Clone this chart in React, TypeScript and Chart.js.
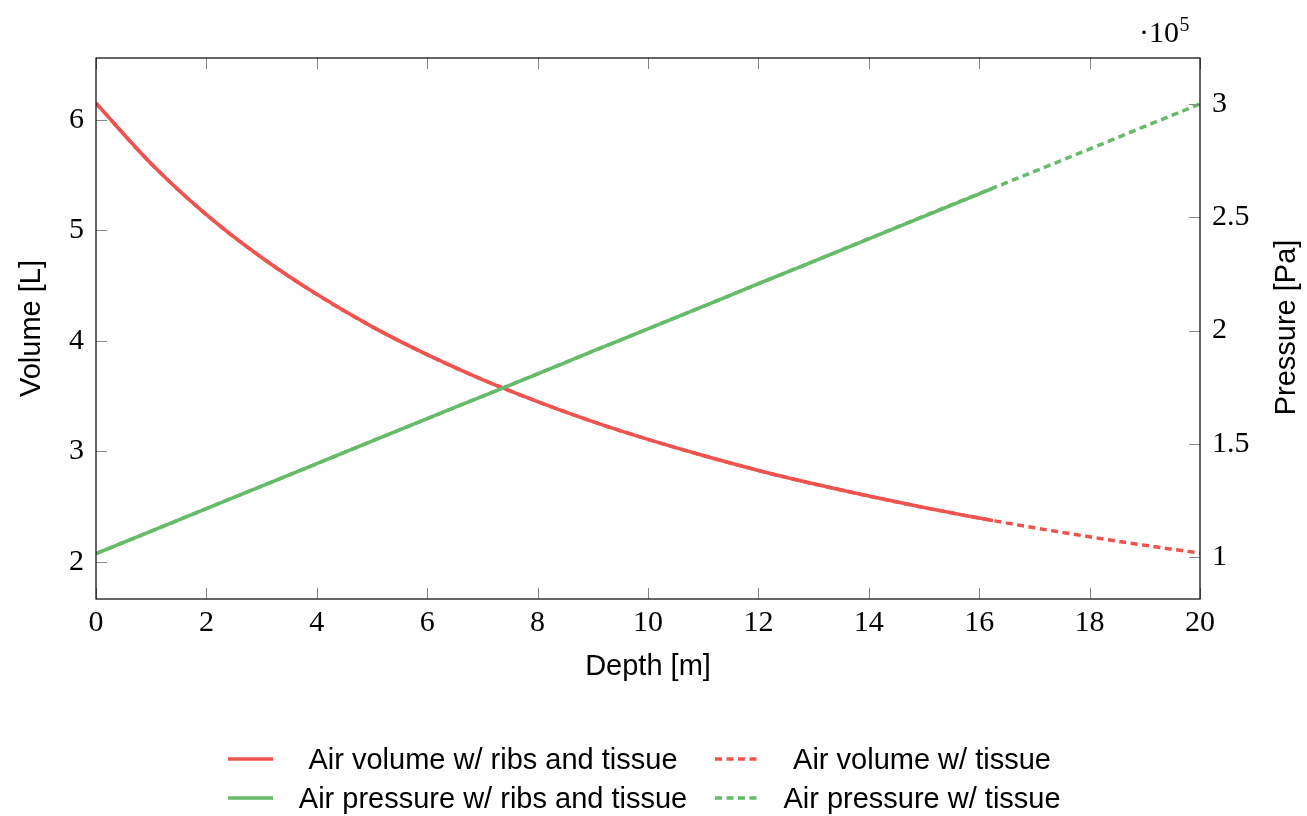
import React, { useEffect, useRef } from "react";
import { Chart, registerables } from "chart.js";

Chart.register(...registerables);

// ---- data ----
const depthRibs = [0, 1, 2, 3, 4, 5, 6, 7, 8, 9, 10, 11, 12, 13, 14, 15, 16, 16.25];
const volumeRibs = [6.15, 5.603, 5.142, 4.754, 4.421, 4.129, 3.875, 3.65, 3.451, 3.27, 3.109, 2.963, 2.828, 2.707, 2.596, 2.492, 2.397, 2.374];
const pressureRibs = [101500, 111400, 121400, 131300, 141200, 151200, 161100, 171000, 180900, 190900, 200800, 210700, 220700, 230600, 240500, 250500, 260400, 262900];

const depthTissue = [0, 1, 2, 3, 4, 5, 6, 7, 8, 9, 10, 11, 12, 13, 14, 15, 16, 17, 18, 19, 20];
const volumeTissue = [6.15, 5.603, 5.142, 4.754, 4.421, 4.129, 3.875, 3.65, 3.451, 3.27, 3.109, 2.963, 2.828, 2.707, 2.596, 2.492, 2.397, 2.309, 2.228, 2.151, 2.08];
const pressureTissue = [101500, 111400, 121400, 131300, 141200, 151200, 161100, 171000, 180900, 190900, 200800, 210700, 220700, 230600, 240600, 250600, 260500, 270300, 280200, 290200, 300100];

const xTicks = [0, 2, 4, 6, 8, 10, 12, 14, 16, 18, 20];
const volumeTicks = [2, 3, 4, 5, 6];
const pressureTicks = [100000, 150000, 200000, 250000, 300000];

const seriesLabels = [
  "Air volume w/ ribs and tissue",
  "Air volume w/ tissue",
  "Air pressure w/ ribs and tissue",
  "Air pressure w/ tissue",
];
const xTitle = "Depth [m]";
const yTitle = "Volume [L]";
const y1Title = "Pressure [Pa]";

// ---- styles ----
const RED = "#EF5350";
const GREEN = "#66BB6A";
const DASH = [7, 4.5];
const SERIF = "'Liberation Serif', 'DejaVu Serif', serif";
const SANS = "'Liberation Sans', Arial, sans-serif";

const pts = (xs: number[], ys: number[]) => xs.map((x, i) => ({ x, y: ys[i] }));

const framePlugin = {
  id: "frame",
  afterDatasetsDraw(chart: any) {
    const { ctx, chartArea } = chart;
    const { left, right, top, bottom } = chartArea;
    const xs = chart.scales.x;
    const ys = chart.scales.y;
    const y1 = chart.scales.y1;
    const TL = 11;
    ctx.save();
    ctx.strokeStyle = "#888888";
    ctx.lineWidth = 1;
    ctx.beginPath();
    xs.ticks.forEach((t: any) => {
      const px = Math.round(xs.getPixelForValue(t.value)) + 0.5;
      ctx.moveTo(px, bottom);
      ctx.lineTo(px, bottom - TL);
      ctx.moveTo(px, top);
      ctx.lineTo(px, top + TL);
    });
    ys.ticks.forEach((t: any) => {
      const py = Math.round(ys.getPixelForValue(t.value)) + 0.5;
      ctx.moveTo(left, py);
      ctx.lineTo(left + TL, py);
    });
    y1.ticks.forEach((t: any) => {
      const py = Math.round(y1.getPixelForValue(t.value)) + 0.5;
      ctx.moveTo(right, py);
      ctx.lineTo(right - TL, py);
    });
    ctx.stroke();
    ctx.strokeStyle = "#000000";
    ctx.lineWidth = 1.2;
    ctx.strokeRect(left, top, right - left, bottom - top);
    ctx.restore();
  },
  afterDraw(chart: any) {
    const { ctx, chartArea } = chart;
    const { left, right, top, bottom } = chartArea;
    ctx.save();
    ctx.fillStyle = "#000";
    // axis titles
    ctx.font = `29px ${SANS}`;
    ctx.textAlign = "center";
    ctx.textBaseline = "alphabetic";
    ctx.fillText(xTitle, (left + right) / 2, 675);
    const cy = (top + bottom) / 2;
    ctx.save();
    ctx.translate(39.5, cy);
    ctx.rotate(-Math.PI / 2);
    ctx.fillText(yTitle, 0, 0);
    ctx.restore();
    ctx.save();
    ctx.translate(1295, cy - 1);
    ctx.rotate(-Math.PI / 2);
    ctx.fillText(y1Title, 0, 0);
    ctx.restore();

    // exponent label
    ctx.font = `30px ${SERIF}`;
    ctx.textAlign = "right";
    ctx.fillText("\u00B710", 1179, 41.7);
    ctx.font = `20px ${SERIF}`;
    ctx.textAlign = "left";
    ctx.fillText("5", 1179.5, 30.7);

    // legend
    const rows = [759, 798];
    const lineX = [[228, 273], [715, 758]];
    const textX = [493, 922];
    const items = [
      { label: seriesLabels[0], color: RED, dash: [] as number[], r: 0, c: 0 },
      { label: seriesLabels[1], color: RED, dash: DASH, r: 0, c: 1 },
      { label: seriesLabels[2], color: GREEN, dash: [] as number[], r: 1, c: 0 },
      { label: seriesLabels[3], color: GREEN, dash: DASH, r: 1, c: 1 },
    ];
    ctx.font = `29px ${SANS}`;
    ctx.textAlign = "center";
    items.forEach((it) => {
      const y = rows[it.r];
      ctx.strokeStyle = it.color;
      ctx.lineWidth = 3.5;
      ctx.setLineDash(it.dash);
      ctx.beginPath();
      ctx.moveTo(lineX[it.c][0], y);
      ctx.lineTo(lineX[it.c][1], y);
      ctx.stroke();
      ctx.setLineDash([]);
      ctx.fillStyle = "#000";
      ctx.fillText(it.label, textX[it.c], y + 9.5);
    });
    ctx.restore();
  },
};

export default function App() {
  const ref = useRef<HTMLCanvasElement | null>(null);
  useEffect(() => {
    if (!ref.current) return;
    const tickFont = { family: SERIF, size: 30 };
    const chart = new Chart(ref.current, {
      type: "line",
      data: {
        datasets: [
          {
            label: seriesLabels[1],
            data: pts(depthTissue, volumeTissue),
            borderColor: RED,
            borderWidth: 3.5,
            borderDash: DASH,
            pointRadius: 0,
            cubicInterpolationMode: "monotone",
            yAxisID: "y",
            order: 4,
          },
          {
            label: seriesLabels[3],
            data: pts(depthTissue, pressureTissue),
            borderColor: GREEN,
            borderWidth: 3.5,
            borderDash: DASH,
            pointRadius: 0,
            cubicInterpolationMode: "monotone",
            yAxisID: "y1",
            order: 3,
          },
          {
            label: seriesLabels[0],
            data: pts(depthRibs, volumeRibs),
            borderColor: RED,
            borderWidth: 3.5,
            pointRadius: 0,
            cubicInterpolationMode: "monotone",
            yAxisID: "y",
            order: 2,
          },
          {
            label: seriesLabels[2],
            data: pts(depthRibs, pressureRibs),
            borderColor: GREEN,
            borderWidth: 3.5,
            pointRadius: 0,
            cubicInterpolationMode: "monotone",
            yAxisID: "y1",
            order: 1,
          },
        ],
      },
      options: {
        animation: false,
        responsive: false,
        maintainAspectRatio: false,
        devicePixelRatio: 1,
        parsing: false as any,
        layout: { padding: { top: 58, left: 0, right: 0, bottom: 217 - 40 } },
        plugins: { legend: { display: false }, tooltip: { enabled: false }, title: { display: false } },
        scales: {
          x: {
            type: "linear",
            position: "bottom",
            min: 0,
            max: 20,
            grid: { display: false, drawTicks: false },
            border: { display: false },
            ticks: { font: tickFont, color: "#000", padding: 6, maxRotation: 0, autoSkip: false, callback: (v: any) => String(v) },
            afterBuildTicks: (s: any) => { s.ticks = xTicks.map((v) => ({ value: v })); },
            afterFit: (s: any) => { s.height = 40; },
          },
          y: {
            type: "linear",
            position: "left",
            min: 1.665,
            max: 6.559,
            grid: { display: false, drawTicks: false },
            border: { display: false },
            ticks: { font: tickFont, color: "#000", padding: 12, callback: (v: any) => String(v) },
            afterBuildTicks: (s: any) => { s.ticks = volumeTicks.map((v) => ({ value: v })); },
            afterFit: (s: any) => { s.width = 96; },
          },
          y1: {
            type: "linear",
            position: "right",
            min: 81460,
            max: 320400,
            grid: { display: false, drawTicks: false },
            border: { display: false },
            ticks: { font: tickFont, color: "#000", padding: 12, callback: (v: any) => String(v / 100000) },
            afterBuildTicks: (s: any) => { s.ticks = pressureTicks.map((v) => ({ value: v })); },
            afterFit: (s: any) => { s.width = 107; },
          },
        },
      },
      plugins: [framePlugin],
    } as any);
    return () => chart.destroy();
  }, []);
  return (
    <div style={{ position: "fixed", left: 0, top: 0, width: 1307, height: 816, background: "#fff" }}>
      <canvas ref={ref} width={1307} height={816} style={{ display: "block", width: 1307, height: 816 }} />
    </div>
  );
}
